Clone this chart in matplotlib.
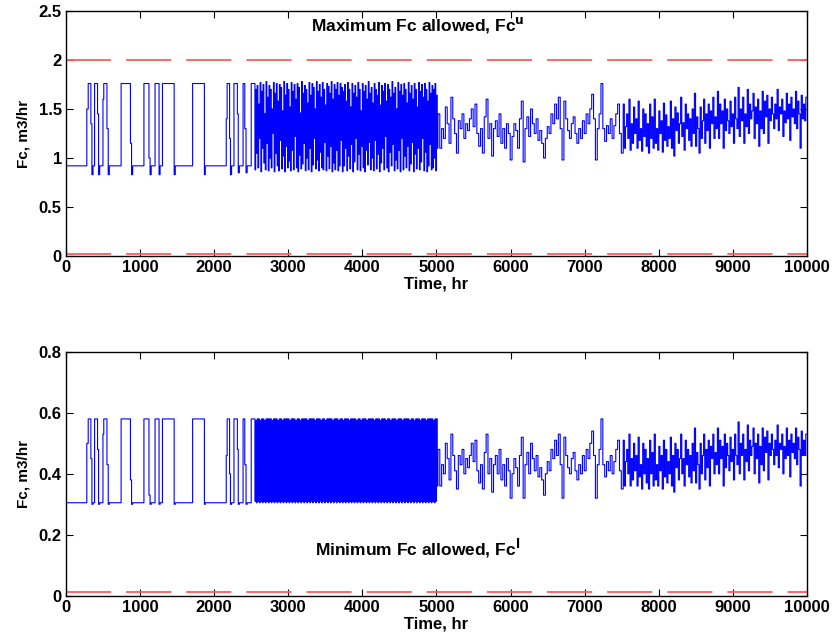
import numpy as np
import matplotlib
matplotlib.use("Agg")
import matplotlib.pyplot as plt

plt.rcParams['font.family'] = ['Liberation Sans', 'DejaVu Sans']
plt.rcParams['font.weight'] = 'bold'

# ---- data ----
# phase 1 (0-2500 hr): switching points
p1_t = [0, 3, 6, 281, 300, 336, 350, 365, 386, 426, 440, 455, 499, 510, 553, 570, 585,
        744, 870, 885, 900, 1052, 1120, 1135, 1150, 1202, 1256, 1270, 1302, 1460, 1475,
        1709, 1868, 1880, 2163, 2175, 2208, 2220, 2235, 2267, 2313, 2325, 2340,
        2390, 2413, 2430, 2445, 2500]
p1_top = [1.30, 0.92, 0.92, 1.50, 1.76, 1.35, 0.83, 0.92, 1.76, 1.45, 0.83, 0.92, 1.60, 1.76, 1.30, 0.83, 0.92,
          1.76, 1.15, 0.83, 0.92, 1.76, 1.00, 0.83, 0.92, 1.76, 0.83, 0.92, 1.76, 0.83, 0.92,
          1.76, 0.83, 0.92, 1.40, 1.76, 1.20, 0.83, 0.92, 1.76, 1.45, 0.85, 0.92,
          1.76, 1.30, 0.85, 0.92, 1.76]
p1_bot = [0.80, 0.19, 0.305, 0.50, 0.58, 0.45, 0.30, 0.305, 0.58, 0.48, 0.30, 0.305, 0.53, 0.58, 0.43, 0.30, 0.305,
          0.58, 0.38, 0.30, 0.305, 0.58, 0.33, 0.30, 0.305, 0.58, 0.30, 0.305, 0.58, 0.30, 0.305,
          0.58, 0.30, 0.305, 0.46, 0.58, 0.40, 0.30, 0.305, 0.58, 0.48, 0.30, 0.305,
          0.58, 0.43, 0.30, 0.305, 0.58]

# phase 2 (2540-5010 hr, every 10 hr): fast switching
dense_start, dense_step = 2540, 10
dense_top = [
    1.76, 0.88, 1.70, 1.05, 1.74, 0.90, 1.55, 1.20, 1.77, 0.86, 1.68, 1.10, 1.75, 0.95, 1.45, 0.88, 1.78, 1.15, 1.62, 0.87,
    1.74, 1.00, 1.70, 0.90, 1.50, 1.25, 1.77, 0.86, 1.66, 1.05, 1.76, 0.92, 1.58, 0.87, 1.75, 1.18, 1.72, 0.89, 1.48, 1.02,
    1.78, 0.86, 1.64, 1.12, 1.76, 0.90, 1.70, 0.97, 1.52, 0.87, 1.77, 1.08, 1.68, 0.88, 1.75, 1.22, 1.60, 0.90, 1.76, 0.86,
    1.72, 1.03, 1.46, 0.89, 1.78, 0.94, 1.66, 1.15, 1.74, 0.87, 1.70, 1.00, 1.56, 0.88, 1.77, 1.10, 1.64, 0.86, 1.76, 0.93,
    1.72, 1.20, 1.50, 0.89, 1.78, 0.98, 1.68, 0.87, 1.75, 1.06, 1.62, 0.90, 1.77, 0.88, 1.70, 1.16, 1.54, 0.87, 1.76, 1.02,
    1.73, 0.89, 1.66, 1.12, 1.78, 0.86, 1.60, 0.95, 1.75, 0.88, 1.70, 1.08, 1.77, 0.87, 1.64, 0.92, 1.76, 1.18, 1.72, 0.86,
    1.68, 0.92, 1.75, 1.10, 1.58, 0.87, 1.77, 1.02, 1.70, 0.89, 1.52, 1.14, 1.76, 0.86, 1.66, 0.96, 1.74, 1.20, 1.62, 0.88,
    1.77, 1.04, 1.70, 0.87, 1.48, 1.12, 1.76, 0.90, 1.68, 0.86, 1.74, 1.08, 1.60, 0.93, 1.78, 1.16, 1.66, 0.88, 1.72, 1.00,
    1.56, 0.87, 1.76, 1.18, 1.70, 0.89, 1.64, 1.04, 1.77, 0.86, 1.54, 0.95, 1.74, 1.10, 1.68, 0.88, 1.76, 1.22, 1.58, 0.90,
    1.75, 0.86, 1.70, 1.06, 1.62, 0.92, 1.78, 1.14, 1.66, 0.87, 1.72, 0.98, 1.50, 0.89, 1.77, 1.08, 1.68, 0.86, 1.75, 1.20,
    1.64, 0.88, 1.76, 1.02, 1.70, 0.90, 1.56, 1.12, 1.77, 0.87, 1.66, 0.94, 1.74, 1.16, 1.60, 0.86, 1.76, 1.04, 1.70, 0.89,
    1.52, 1.10, 1.77, 0.88, 1.68, 0.96, 1.75, 1.20, 1.62, 0.87, 1.76, 1.06, 1.70, 0.86, 1.58, 0.92, 1.77, 1.14, 1.66, 0.88,
    1.74, 0.90, 1.70, 1.00, 1.76, 0.87, 1.64, 1.10]
dense_bot = [
    0.58, 0.31, 0.575, 0.305, 0.58, 0.31, 0.58, 0.305, 0.575, 0.31, 0.58, 0.305, 0.58, 0.31, 0.575, 0.305, 0.58, 0.31, 0.58, 0.305,
    0.58, 0.31, 0.58, 0.305, 0.575, 0.31, 0.58, 0.305, 0.58, 0.31, 0.58, 0.305, 0.575, 0.31, 0.58, 0.305, 0.58, 0.31, 0.575, 0.305,
    0.58, 0.31, 0.58, 0.305, 0.58, 0.31, 0.58, 0.305, 0.575, 0.31, 0.58, 0.305, 0.58, 0.31, 0.58, 0.305, 0.575, 0.31, 0.58, 0.305,
    0.58, 0.31, 0.575, 0.305, 0.58, 0.31, 0.58, 0.305, 0.58, 0.31, 0.58, 0.305, 0.575, 0.31, 0.58, 0.305, 0.58, 0.31, 0.58, 0.305,
    0.58, 0.31, 0.575, 0.305, 0.58, 0.31, 0.58, 0.305, 0.58, 0.31, 0.575, 0.305, 0.58, 0.31, 0.58, 0.305, 0.575, 0.31, 0.58, 0.305,
    0.58, 0.31, 0.58, 0.305, 0.58, 0.31, 0.575, 0.305, 0.58, 0.31, 0.58, 0.305, 0.58, 0.31, 0.575, 0.305, 0.58, 0.31, 0.58, 0.305,
    0.575, 0.31, 0.58, 0.305, 0.58, 0.31, 0.58, 0.305, 0.575, 0.31, 0.58, 0.305, 0.58, 0.31, 0.58, 0.305, 0.58, 0.31, 0.575, 0.305,
    0.58, 0.31, 0.58, 0.305, 0.575, 0.31, 0.58, 0.305, 0.58, 0.31, 0.58, 0.305, 0.575, 0.31, 0.58, 0.305, 0.58, 0.31, 0.58, 0.305,
    0.58, 0.31, 0.575, 0.305, 0.58, 0.31, 0.58, 0.305, 0.58, 0.31, 0.575, 0.305, 0.58, 0.31, 0.58, 0.305, 0.58, 0.31, 0.575, 0.305,
    0.58, 0.31, 0.58, 0.305, 0.575, 0.31, 0.58, 0.305, 0.58, 0.31, 0.58, 0.305, 0.575, 0.31, 0.58, 0.305, 0.58, 0.31, 0.58, 0.305,
    0.575, 0.31, 0.58, 0.305, 0.58, 0.31, 0.58, 0.305, 0.58, 0.31, 0.575, 0.305, 0.58, 0.31, 0.58, 0.305, 0.575, 0.31, 0.58, 0.305,
    0.58, 0.31, 0.58, 0.305, 0.575, 0.31, 0.58, 0.305, 0.58, 0.31, 0.58, 0.305, 0.575, 0.31, 0.58, 0.305, 0.58, 0.31, 0.58, 0.305,
    0.58, 0.31, 0.575, 0.305, 0.58, 0.31, 0.58, 0.36]

# phase 3a (5020-7495 hr, every 25 hr)
na_start, na_step = 5020, 25
na_top = [1.45, 1.10, 1.30, 1.20, 1.52, 1.35, 1.15, 1.62, 1.40, 1.25,
          1.05, 1.38, 1.30, 1.45, 1.20, 1.35, 1.28, 1.40, 1.50, 1.32,
          1.55, 1.25, 1.12, 1.30, 1.05, 1.42, 1.60, 1.20, 1.35, 1.02,
          1.30, 1.38, 1.22, 1.45, 1.15, 1.30, 1.10, 1.35, 1.25, 0.98,
          1.22, 1.35, 1.28, 1.10, 1.40, 1.58, 0.96, 1.30, 1.42, 1.22,
          1.50, 1.35, 1.25, 1.40, 1.18, 1.28, 1.15, 1.00, 1.20, 1.32,
          1.25, 1.45, 1.35, 1.55, 1.40, 1.62, 1.30, 0.98, 1.58, 1.40,
          1.28, 1.20, 1.35, 1.42, 1.25, 1.15, 1.30, 1.20, 1.38, 1.25,
          1.45, 1.35, 1.50, 1.65, 1.40, 0.98, 1.30, 1.45, 1.76, 1.30,
          1.17, 1.33, 1.25, 1.40, 1.20, 1.33, 1.45, 1.55, 1.25, 1.05]
na_bot = [0.48, 0.36, 0.43, 0.40, 0.50, 0.45, 0.38, 0.53, 0.46, 0.41,
          0.35, 0.46, 0.43, 0.48, 0.40, 0.45, 0.42, 0.46, 0.50, 0.44,
          0.51, 0.41, 0.37, 0.43, 0.35, 0.47, 0.53, 0.40, 0.45, 0.34,
          0.43, 0.46, 0.40, 0.48, 0.38, 0.43, 0.36, 0.45, 0.41, 0.32,
          0.40, 0.45, 0.42, 0.36, 0.46, 0.52, 0.32, 0.43, 0.47, 0.40,
          0.50, 0.45, 0.41, 0.46, 0.39, 0.42, 0.38, 0.33, 0.40, 0.44,
          0.41, 0.48, 0.45, 0.51, 0.46, 0.53, 0.43, 0.32, 0.52, 0.46,
          0.42, 0.40, 0.45, 0.47, 0.41, 0.38, 0.43, 0.40, 0.46, 0.41,
          0.48, 0.45, 0.50, 0.54, 0.46, 0.32, 0.43, 0.48, 0.58, 0.43,
          0.39, 0.44, 0.41, 0.46, 0.40, 0.44, 0.48, 0.51, 0.41, 0.35]

# phase 3b (7520-10000 hr, evenly spaced)
nb_start = 7520
nb_top = [1.55, 1.10, 1.32, 1.45, 1.20, 1.60, 1.08, 1.35, 1.15, 1.52,
          1.25, 1.40, 1.10, 1.58, 1.18, 1.30, 1.07, 1.50, 1.22, 1.45,
          1.12, 1.35, 1.05, 1.55, 1.20, 1.42, 1.10, 1.60, 1.15, 1.30,
          1.08, 1.48, 1.25, 1.38, 1.06, 1.56, 1.18, 1.44, 1.12, 1.32,
          1.20, 1.58, 1.10, 1.40, 1.02, 1.52, 1.28, 1.46, 1.15, 1.35,
          1.62, 1.22, 1.36, 1.08, 1.55, 1.30, 1.45, 1.18, 1.40, 1.12,
          1.50, 1.25, 1.66, 1.12, 1.42, 1.30, 1.05, 1.52, 1.20, 1.38,
          1.60, 1.15, 1.45, 1.28, 1.55, 1.10, 1.48, 1.35, 1.62, 1.20,
          1.42, 1.30, 1.68, 1.20, 1.55, 1.35, 1.48, 1.10, 1.60, 1.28,
          1.50, 1.38, 1.25, 1.58, 1.32, 1.45, 1.15, 1.62, 1.40, 1.30,
          1.72, 1.22, 1.50, 1.38, 1.62, 1.15, 1.45, 1.32, 1.70, 1.25,
          1.55, 1.40, 1.48, 1.66, 1.20, 1.52, 1.35, 1.60, 1.12, 1.48,
          1.30, 1.68, 1.25, 1.58, 1.42, 1.64, 1.15, 1.50, 1.38, 1.62,
          1.45, 1.30, 1.55, 1.40, 1.70, 1.28, 1.52, 1.45, 1.60, 1.22,
          1.48, 1.36, 1.66, 1.40, 1.55, 1.18, 1.62, 1.42, 1.50, 1.35,
          1.68, 1.30, 1.58, 1.45, 1.10, 1.64, 1.40, 1.55, 1.38, 1.62]
nb_bot = [0.51, 0.36, 0.44, 0.48, 0.40, 0.53, 0.36, 0.45, 0.38, 0.50,
          0.41, 0.46, 0.36, 0.52, 0.39, 0.43, 0.35, 0.50, 0.40, 0.48,
          0.37, 0.45, 0.35, 0.51, 0.40, 0.47, 0.36, 0.53, 0.38, 0.43,
          0.36, 0.49, 0.41, 0.46, 0.35, 0.51, 0.39, 0.48, 0.37, 0.44,
          0.40, 0.52, 0.36, 0.46, 0.34, 0.50, 0.42, 0.48, 0.38, 0.45,
          0.53, 0.40, 0.45, 0.36, 0.51, 0.43, 0.48, 0.39, 0.46, 0.37,
          0.50, 0.41, 0.55, 0.37, 0.47, 0.43, 0.35, 0.50, 0.40, 0.46,
          0.53, 0.38, 0.48, 0.42, 0.51, 0.36, 0.49, 0.45, 0.53, 0.40,
          0.47, 0.43, 0.55, 0.40, 0.51, 0.45, 0.49, 0.36, 0.53, 0.42,
          0.50, 0.46, 0.41, 0.52, 0.44, 0.48, 0.38, 0.53, 0.46, 0.43,
          0.57, 0.40, 0.50, 0.46, 0.53, 0.38, 0.48, 0.44, 0.56, 0.41,
          0.51, 0.46, 0.49, 0.55, 0.40, 0.50, 0.45, 0.53, 0.37, 0.49,
          0.43, 0.55, 0.41, 0.52, 0.47, 0.54, 0.38, 0.50, 0.46, 0.53,
          0.48, 0.43, 0.51, 0.46, 0.56, 0.42, 0.50, 0.48, 0.53, 0.40,
          0.49, 0.45, 0.55, 0.46, 0.51, 0.39, 0.53, 0.47, 0.50, 0.45,
          0.55, 0.43, 0.52, 0.48, 0.36, 0.54, 0.46, 0.51, 0.46, 0.53]

t_end = 10000
fc_max = 2.0
fc_min_top = 0.02
fc_min_bot = 0.013


def build(p1_vals, dense_vals, na_vals, nb_vals):
    n_b = len(nb_vals)
    t = np.concatenate([
        p1_t,
        dense_start + dense_step * np.arange(len(dense_vals)),
        na_start + na_step * np.arange(len(na_vals)),
        nb_start + (t_end - nb_start) * np.arange(n_b) / n_b,
        [t_end],
    ])
    v = np.concatenate([p1_vals, dense_vals, na_vals, nb_vals, [nb_vals[-1]]])
    return t, v


t_top, fc_top = build(p1_top, dense_top, na_top, nb_top)
t_bot, fc_bot = build(p1_bot, dense_bot, na_bot, nb_bot)

fig = plt.figure(figsize=(8.32, 6.4), dpi=100)
ax1 = fig.add_axes([0.0793, 0.600, 0.8906, 0.3828])
ax2 = fig.add_axes([0.0793, 0.0692, 0.8906, 0.381])

red = '#ff5a5a'
dash = (0, (25, 8.3))

for ax, t, v, lo in [(ax1, t_top, fc_top, fc_min_top), (ax2, t_bot, fc_bot, fc_min_bot)]:
    ax.plot(t, v, color='#0000ff', lw=0.8, drawstyle='steps-post')
    ax.axhline(lo, color=red, lw=1.3, linestyle=dash)
    ax.set_xlim(0, 10000)
    ax.set_xticks(np.arange(0, 10001, 1000))
    ax.tick_params(direction='in', top=True, right=True, length=5, width=0.8,
                   labelsize=12, pad=3)
    for s in ax.spines.values():
        s.set_linewidth(1.0)
    ax.set_xlabel('Time, hr', fontsize=12, fontweight='bold', labelpad=1)
    ax.set_ylabel('Fc, m3/hr', fontsize=11, fontweight='bold', labelpad=6)

ax1.axhline(fc_max, color=red, lw=1.3, linestyle=dash)
ax1.set_ylim(0, 2.5)
ax1.set_yticks([0, 0.5, 1, 1.5, 2, 2.5])
ax1.set_yticklabels(['0', '0.5', '1', '1.5', '2', '2.5'])
ax1.text(4750, 2.36, 'Maximum Fc allowed, Fc$^{\\mathrm{u}}$', ha='center', va='center',
         fontsize=12.5, fontweight='bold')

ax2.set_ylim(0, 0.8)
ax2.set_yticks([0, 0.2, 0.4, 0.6, 0.8])
ax2.set_yticklabels(['0', '0.2', '0.4', '0.6', '0.8'])
ax2.text(4750, 0.155, 'Minimum Fc allowed, Fc$^{\\mathrm{l}}$', ha='center', va='center',
         fontsize=12.5, fontweight='bold')

fig.savefig('out.png', dpi=100)
